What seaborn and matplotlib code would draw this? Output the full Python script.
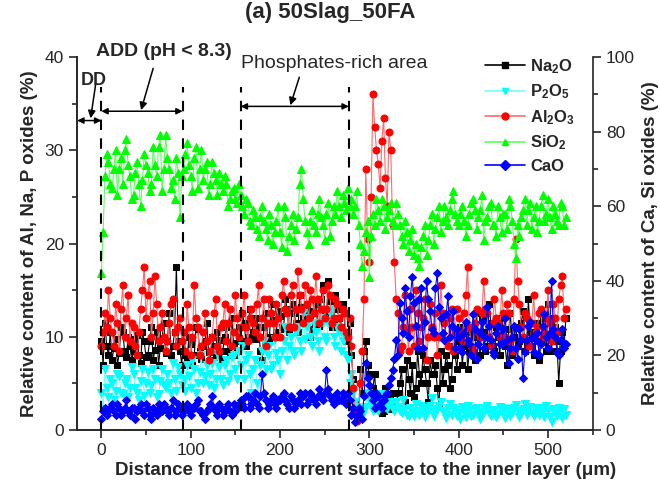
import matplotlib
matplotlib.use('Agg')
import matplotlib.pyplot as plt
from matplotlib.ticker import MultipleLocator
from matplotlib.lines import Line2D
import numpy as np
import seaborn as sns

# EDS line scan, one reading every 2 um from the current surface inwards
step_um = 2

# left axis (%)
na2o = [9.5, 7.0, 11.5, 9.0, 8.0, 10.5, 7.5, 8.8, 9.8, 7.0, 8.2, 11.0, 10.5, 8.5, 7.8, 10.0, 9.0, 7.5, 8.5, 9.8, 10.2, 8.0, 7.2,
        10.5, 9.5, 7.8, 8.0, 9.5, 11.0, 7.5, 8.6, 10.5, 7.0, 8.8, 9.8, 11.5, 8.2, 9.5, 12.5, 8.0, 9.0, 10.5, 17.5, 9.5, 8.5,
        7.0,
        10.5, 8.0, 7.5, 10.0, 9.2, 7.0, 8.0, 11.0, 10.8, 8.5, 7.6, 9.0, 9.5, 11.5, 8.4, 7.5, 10.0, 9.0, 7.8, 10.5, 9.6, 7.5,
        8.5, 10.0, 11.0, 8.5, 8.0, 12.0, 9.3, 8.0, 10.5,
        11.0,
        9.5, 12.5, 11.5, 9.0, 10.0, 13.0, 12.0, 10.5, 9.8, 12.0, 11.0, 8.5, 7.5, 11.0, 12.5, 10.0, 9.5, 13.5, 11.8, 10.0,
        10.5, 12.8, 12.2, 11.0, 10.8, 14.0, 13.0, 10.5, 11.0, 13.5, 12.5, 11.5, 10.5, 14.5, 13.2, 12.0, 11.5, 13.5, 12.8,
        10.0, 10.8, 12.5, 13.5, 11.5, 11.2, 14.0, 15.5, 12.5, 12.0, 16.0, 13.8, 11.0, 11.5, 14.5, 13.0, 12.0, 11.0, 13.5,
        12.5, 9.5, 10.5,
        11.5,
        8.0, 5.5, 3.0, 2.0, 1.5, 6.5, 4.0, 8.5, 9.5, 7.0, 6.0, 3.5, 4.5, 6.0, 2.5, 3.5, 3.0, 1.8, 2.0, 4.5, 3.5, 2.2, 2.5,
        4.0, 3.0,
        2.5,
        4.0, 5.0, 6.5, 2.5, 3.0, 7.5, 5.5, 4.0, 7.0, 3.5, 4.5, 8.5, 6.0, 5.0, 8.0, 6.5, 5.0, 3.0, 7.5, 6.0, 6.0, 7.0, 4.5,
        2.5, 8.5, 5.0, 6.5, 8.0, 7.0, 4.5, 5.5, 9.0, 8.0,
        6.5,
        9.5, 11.0, 7.0, 9.0, 11.5, 6.5, 8.5, 10.5, 10.0, 7.5, 12.5, 10.0, 8.0, 12.0, 10.5, 8.5, 9.0, 13.5, 11.5, 9.0, 8.5,
        11.0, 10.0, 8.0, 12.0, 10.5, 9.0, 7.0, 10.8, 12.5, 8.0, 10.0, 11.0, 9.0, 9.5, 11.5, 12.8, 8.5, 9.0, 14.0, 10.5,
        9.0, 8.0, 10.5, 11.5, 7.5, 9.5, 12.0, 10.0, 8.5, 13.5, 10.0, 8.5, 12.0, 11.0, 9.5, 5.0, 8.5, 10.5, 9.0, 12.0]
p2o5 = [4.0, 2.2, 6.5, 4.5, 3.5, 5.5, 5.0, 3.2, 4.2, 6.0, 5.8, 4.0, 3.8, 5.0, 5.5, 3.5, 4.5, 6.8, 6.0, 4.5, 4.0, 3.2, 5.2,
        6.5, 3.6, 5.0, 6.2, 4.0, 4.8, 6.5, 5.5, 3.5, 3.8, 5.2, 6.5, 4.8, 4.5, 6.0, 5.0, 4.0, 7.2, 5.5, 4.2, 6.8, 6.0,
        4.8,
        5.5, 4.2, 7.0, 5.8, 4.5, 7.5, 6.5, 4.0, 5.0, 6.2, 8.0, 5.0, 5.8, 7.0, 4.8, 6.0, 7.2, 4.5, 5.5, 8.2, 6.8, 5.5, 4.8,
        7.0, 7.5, 5.2, 6.0, 7.8, 8.0, 6.5, 5.5,
        8.5,
        7.0, 9.0, 5.5, 7.5, 8.0, 6.0, 4.0, 6.5, 7.5, 5.0, 3.5, 7.0, 8.5, 9.5, 6.5, 8.0, 9.0, 6.5, 7.0, 9.8, 8.2, 7.5, 6.0,
        8.5, 9.5, 11.0, 7.5, 9.0, 10.0, 8.5, 8.0, 10.5, 11.0, 9.5, 8.5, 12.5, 9.8, 11.0, 12.0, 10.0, 9.0, 11.5, 10.5, 9.5,
        8.5, 12.0, 11.5, 10.0, 9.5, 11.5, 12.5, 13.0, 10.0, 9.0, 11.0, 10.5, 8.5, 9.5, 10.0, 8.0, 7.5,
        5.0,
        6.0, 4.0, 3.0, 2.5, 2.0, 1.8, 1.5, 2.2, 2.5, 4.0, 3.5, 2.8, 2.0, 3.5, 3.0, 2.0, 2.5, 3.8, 3.2, 2.5, 2.2, 3.0, 2.8,
        2.2, 2.0,
        3.0,
        2.5, 2.0, 1.8, 3.2, 2.2, 1.6, 1.5, 2.4, 2.0, 1.5, 2.8, 2.0, 1.6, 2.6, 2.3, 1.4, 1.8, 2.2, 2.6, 3.4, 1.5, 1.9, 2.2,
        2.6, 3.0, 2.0, 1.8, 1.3, 2.4, 2.8, 1.6, 2.3, 2.1,
        1.5,
        1.8, 1.2, 2.5, 2.0, 1.4, 2.6, 2.0, 1.5, 1.6, 2.2, 2.3, 1.8, 1.2, 1.6, 1.9, 2.4, 2.6, 1.8, 1.5, 2.0, 2.1, 1.4, 1.7,
        2.5, 2.4, 1.9, 1.3, 2.2, 2.0, 1.5, 1.8, 2.3, 2.7, 2.0, 1.4, 1.7, 2.2, 2.8, 1.6, 2.1, 2.5, 1.8, 1.5, 2.4, 1.9, 1.6,
        2.3, 2.0, 1.4, 2.6, 2.0, 1.4, 0.8, 2.2, 1.8, 1.5, 2.4, 2.0, 1.3, 2.2, 1.6]
al2o3 = [9.0, 10.5, 12.5, 11.0, 15.0, 12.0, 10.5, 9.0, 13.5, 11.5, 8.5, 13.0, 15.5, 10.0, 12.0, 14.5, 9.5, 11.5, 11.0,
         9.0, 8.0, 10.5, 13.0, 15.0, 17.5, 12.0, 14.5, 16.0, 10.0, 12.5, 16.5, 13.5, 9.5, 11.0, 12.5, 10.0, 8.5, 9.5,
         11.5, 13.5, 14.0, 10.5, 9.0, 11.0, 12.0,
         9.5,
         10.5, 8.5, 13.5, 11.0, 8.0, 10.0, 15.5, 12.0, 11.0, 8.0, 9.0, 10.5, 12.5, 9.5, 7.5, 8.5, 10.0, 12.5, 14.0, 9.0,
         8.5, 11.0, 11.5, 13.5, 9.5, 11.5, 13.0, 9.0, 10.5, 14.5, 12.0,
         10.0,
         11.0, 12.5, 14.5, 11.0, 9.5, 12.0, 13.0, 11.5, 10.5, 13.5, 15.5, 10.0, 12.0, 14.0, 9.0, 11.5, 14.0, 12.5, 11.5,
         10.0, 13.5, 12.0, 10.0, 14.5, 16.0, 13.0, 12.5, 11.0, 14.5, 15.5, 11.0, 13.0, 17.0, 14.5, 13.0, 11.5, 15.5, 13.5,
         12.0, 15.0, 14.0, 12.5, 16.5, 14.0, 11.5, 13.0, 15.0, 12.0, 13.0, 15.5, 14.5, 11.5, 12.0, 14.0, 13.5, 12.0, 11.0,
         13.0, 12.5, 10.5, 10.0,
         12.0,
         9.0, 4.5, 2.0, 1.0, 1.5, 5.0, 8.5, 14.0, 28.0, 20.5, 18.0, 25.0, 36.0, 32.5, 30.0, 28.5, 26.0, 31.0, 33.5, 27.0,
         24.0, 32.0, 30.0, 22.0, 18.0,
         14.0,
         12.5, 8.5, 9.0, 11.0, 14.5, 10.5, 8.5, 13.0, 11.0, 9.0, 15.0, 12.5, 9.5, 11.0, 12.0, 14.0, 7.5, 10.0, 13.5, 11.0,
         10.0, 12.5, 8.0, 10.0, 15.5, 12.5, 11.5, 9.5, 9.0, 12.0, 13.0, 8.5, 10.5,
         13.0,
         12.0, 10.5, 9.5, 12.5, 14.5, 17.5, 11.0, 9.0, 8.5, 11.5, 13.0, 10.5, 10.0, 12.5, 16.0, 13.0, 12.5, 10.0, 9.0,
         11.5, 14.0, 12.0, 11.5, 10.0, 15.0, 12.5, 10.0, 13.5, 12.5, 9.5, 8.5, 14.0, 20.5, 16.0, 13.5, 11.0, 10.0, 12.5,
         12.0, 9.0, 9.0, 11.5, 14.5, 10.5, 11.0, 12.5, 13.0, 10.0, 10.5, 12.0, 15.0, 11.5, 9.5, 13.5, 12.0, 10.5, 14.0,
         15.5, 16.5, 12.0, 13.0]

# right axis (%)
sio2 = [42, 53, 68, 74, 72, 66, 65, 70, 75, 63, 70, 73, 66, 75, 78, 71, 68, 62, 63, 69, 72, 66, 60, 67, 74, 71, 69,
        64, 66, 76, 71, 68, 76, 79, 64, 70, 79, 73, 70, 65, 67, 62, 73, 69, 57,
        68,
        70, 74, 77, 71, 68, 64, 73, 76, 65, 70, 75, 67, 70, 72, 63, 66, 72, 69, 67, 63, 69, 66, 64, 68, 66, 60, 62, 64,
        65, 62, 61,
        66,
        63, 60, 58, 62, 61, 56, 55, 59, 57, 54, 52, 57, 60, 56, 54, 51, 58, 55, 50, 53, 56, 60, 53, 49, 60, 57, 48, 52,
        55, 58, 51, 54, 57, 66, 70, 62, 56, 53, 50, 56, 59, 55, 53, 58, 62, 57, 55, 51, 58, 61, 52, 56, 60, 58, 64, 60,
        57, 63, 61, 59, 65,
        60,
        62, 58, 60, 64, 55, 50, 44, 48, 53, 56, 41, 52, 58, 55, 62, 59, 56, 62, 60, 54, 57, 59, 61, 56, 55,
        61,
        58, 55, 52, 50, 56, 53, 48, 51, 54, 47, 50, 46, 44, 49, 52, 55, 47, 51, 55, 58, 50, 54, 57, 60, 53, 56, 60, 57,
        55, 59, 62, 64, 58,
        56,
        55, 58, 60, 56, 52, 55, 58, 61, 62, 59, 54, 57, 59, 63, 51, 56, 57, 60, 61, 55, 55, 52, 60, 57, 53, 58, 58, 54,
        62, 60, 56, 50, 46, 55, 52, 57, 59, 62, 55, 59, 61, 54, 57, 60, 53, 56, 60, 63, 56, 58, 62, 57, 54, 60, 58, 56,
        55, 61, 60, 55, 57]
cao = [3, 5, 6, 4, 5, 6, 7, 5, 4, 7, 6, 4, 5, 6, 8, 5, 4, 6, 6, 3, 5, 6, 7, 5, 4, 7, 6, 4, 3, 6, 5, 4, 7, 6, 5, 7,
       6, 5, 4, 6, 8, 4, 5, 7, 6,
       4,
       5, 6, 7, 5, 4, 6, 6, 7, 8, 5, 5, 4, 3, 5, 6, 7, 9, 6, 5, 4, 7, 6, 4, 5, 6, 7, 5, 4, 7, 5, 6,
       7,
       8, 7, 6, 9, 9, 6, 7, 8, 10, 7, 6, 9, 15, 10, 8, 6, 7, 8, 9, 7, 6, 8, 8, 9, 10, 8, 7, 6, 9, 8, 6, 7, 8, 10, 7, 9,
       10, 7, 8, 10, 9, 8, 7, 9, 11, 9, 8, 10, 16, 11, 9, 8, 7, 9, 10, 8, 8, 10, 9, 7, 10,
       8,
       4, 6, 2, 4, 6, 5, 3, 9, 18, 14, 12, 10, 8, 6, 10, 9, 7, 6, 8, 9, 10, 12, 14, 16, 19,
       24,
       20, 34, 30, 26, 38, 32, 25, 36, 41, 34, 28, 22, 35, 38, 22, 29, 40, 35, 32, 27, 26, 38, 42, 33, 30, 26, 24, 31,
       36, 25, 28, 32, 22,
       27,
       25, 22, 21, 26, 29, 24, 23, 20, 31, 27, 19, 23, 26, 29, 22, 25, 33, 28, 24, 21, 20, 26, 28, 23, 23, 27, 30, 24,
       18, 22, 25, 28, 22, 19, 27, 24, 14, 21, 24, 28, 29, 25, 21, 24, 26, 20, 23, 28, 31, 25, 22, 26, 40, 27, 25, 21,
       20, 24, 27, 22, 23]

# zone boundaries (um)
zone_edges = [0, 91, 156, 277]

sns.set_style('ticks')
plt.rcParams['font.family'] = ['Liberation Sans', 'DejaVu Sans']
plt.rcParams['mathtext.fontset'] = 'custom'
plt.rcParams['mathtext.rm'] = 'Liberation Sans:bold'
plt.rcParams['mathtext.bf'] = 'Liberation Sans:bold'
plt.rcParams['mathtext.default'] = 'bf'
plt.rcParams['xtick.direction'] = 'out'
plt.rcParams['ytick.direction'] = 'out'

fig = plt.figure(figsize=(6.6, 4.93), dpi=100)
ax = fig.add_axes([0.117, 0.128, 0.781, 0.756])
ax2 = ax.twinx()

# name, values, marker colour, line colour, marker, size
left_series = [('Na$_2$O', na2o, 'black', 'black', 's', 4.2),
               ('P$_2$O$_5$', p2o5, '#00FFFF', '#70FFFF', 'v', 5.2),
               ('Al$_2$O$_3$', al2o3, '#FF0000', '#FF6A6A', 'o', 5.0)]
right_series = [('SiO$_2$', sio2, '#00FF00', '#60FF60', '^', 5.2),
                ('CaO', cao, '#0000FF', '#0000FF', 'D', 4.2)]

handles = []
for axis, group in [(ax, left_series), (ax2, right_series)]:
    for name, vals, mc, lc, mk, ms in group:
        dist = np.arange(len(vals)) * step_um
        sns.lineplot(x=dist, y=vals, ax=axis, color=lc, marker=mk, markersize=ms,
                     markerfacecolor=mc, markeredgecolor=mc, linewidth=0.8, legend=False)
        handles.append(Line2D([], [], color=lc, marker=mk, markersize=5, markerfacecolor=mc,
                              markeredgecolor=mc, linewidth=1.2, label=name))

ax.set_xlim(-27, 550)
ax.set_ylim(0, 40)
ax2.set_ylim(0, 100)
ax.xaxis.set_major_locator(MultipleLocator(100))
ax.xaxis.set_minor_locator(MultipleLocator(50))
ax.yaxis.set_major_locator(MultipleLocator(10))
ax.yaxis.set_minor_locator(MultipleLocator(5))
ax2.yaxis.set_major_locator(MultipleLocator(20))
ax2.yaxis.set_minor_locator(MultipleLocator(10))

for a in (ax, ax2):
    a.spines['top'].set_visible(False)
    for s in a.spines.values():
        s.set_linewidth(1.2)
    a.tick_params(which='major', length=6, width=1.2, labelsize=12.5)
    a.tick_params(which='minor', length=3.5, width=1.2)
ax.spines['right'].set_visible(False)

ax.set_xlabel('Distance from the current surface to the inner layer (\u03bcm)', fontsize=13.5,
              fontweight='bold')
ax.xaxis.set_label_coords(0.56, -0.085)
ax.set_ylabel('Relative content of Al, Na, P oxides (%)', fontsize=13.5, fontweight='bold', labelpad=5)
ax2.set_ylabel('Relative content of Ca, Si oxides (%)', fontsize=13.5, fontweight='bold', labelpad=5)
fig.suptitle('(a) 50Slag_50FA', fontsize=16, fontweight='bold', y=0.995)

ax2.legend(handles=handles, loc='upper right', bbox_to_anchor=(0.995, 1.04), frameon=False,
           prop={'weight': 'bold', 'size': 12}, handlelength=2.4, handletextpad=0.3, labelspacing=0.4)

# zone markers, drawn in right-axis units so they sit above the data
for xe in zone_edges:
    ax2.plot([xe, xe], [0, 92], color='black', linestyle=(0, (5, 4)), linewidth=1.5, zorder=5)

dbl = dict(arrowstyle='<|-|>', color='black', linewidth=1.1, mutation_scale=9, shrinkA=0, shrinkB=0)
one = dict(arrowstyle='-|>', color='black', linewidth=1.1, mutation_scale=11, shrinkA=0, shrinkB=0)
ax2.annotate('', xy=(-27, 83), xytext=(0, 83), arrowprops=dbl, annotation_clip=False)
ax2.annotate('', xy=(0, 85.5), xytext=(91, 85.5), arrowprops=dbl, annotation_clip=False)
ax2.annotate('', xy=(156, 86.8), xytext=(277, 86.8), arrowprops=dbl, annotation_clip=False)

ax2.annotate('', xy=(-12, 83.6), xytext=(-6.5, 92.5), arrowprops=one, annotation_clip=False)
ax2.annotate('', xy=(44.5, 85.8), xytext=(58, 97), arrowprops=one, annotation_clip=False)
ax2.annotate('', xy=(211.6, 87.1), xytext=(221.6, 94.6), arrowprops=one, annotation_clip=False)

ax2.text(-8, 93.8, 'DD', fontsize=13, fontweight='bold', ha='center', va='center', clip_on=False)
ax2.text(-5.5, 101.4, 'ADD (pH < 8.3)', fontsize=14, fontweight='bold', ha='left', va='center', clip_on=False)
ax2.text(260.5, 98.4, 'Phosphates-rich area', fontsize=14, ha='center', va='center', clip_on=False)

fig.savefig('out.png', dpi=100)
